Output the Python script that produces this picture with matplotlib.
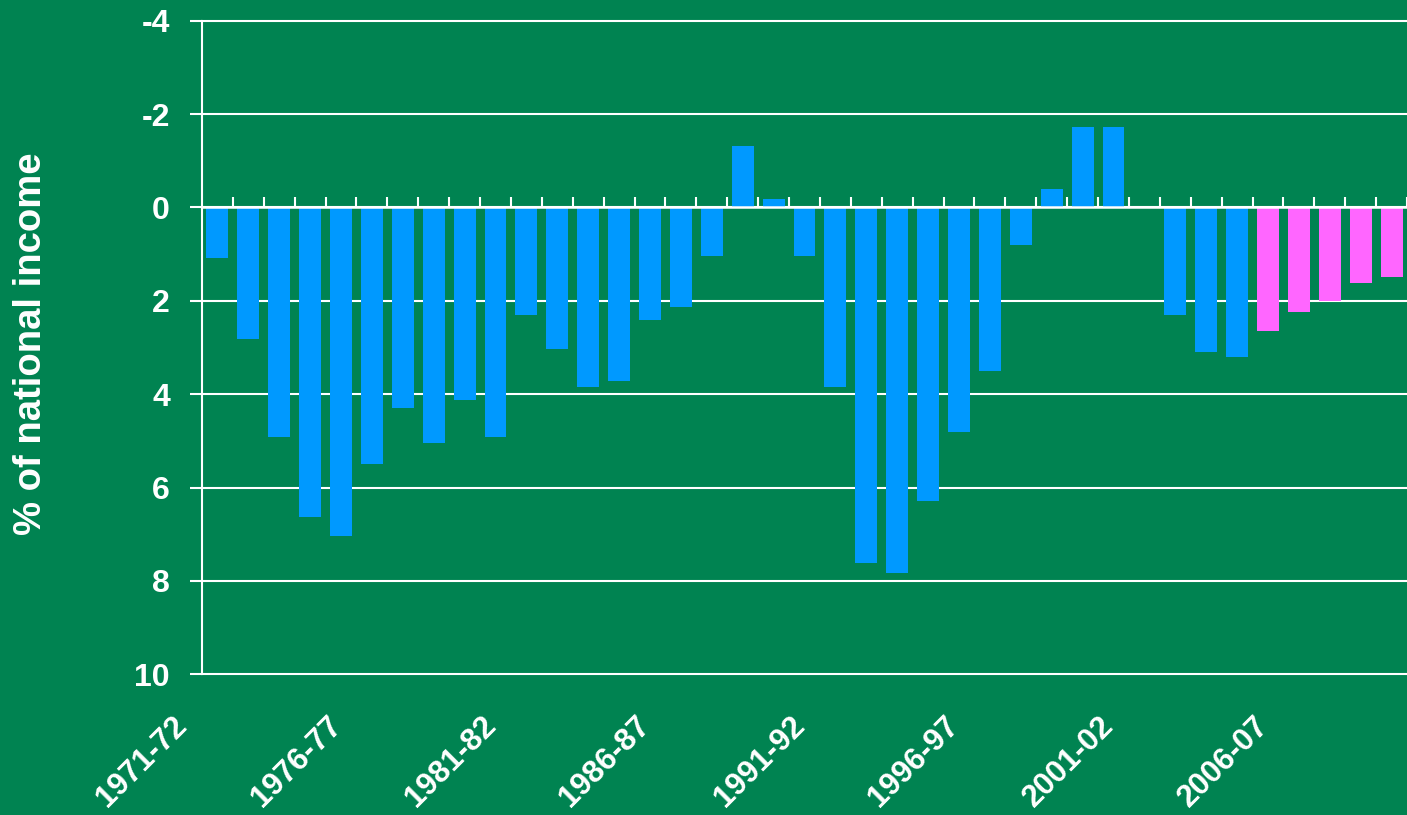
import matplotlib
matplotlib.use("Agg")
import matplotlib.pyplot as plt
import matplotlib.transforms as mtransforms
import numpy as np

# -----------------------------
# Datos
# -----------------------------
years = ['1971-72', '1972-73', '1973-74', '1974-75', '1975-76', '1976-77',
         '1977-78', '1978-79', '1979-80', '1980-81', '1981-82', '1982-83',
         '1983-84', '1984-85', '1985-86', '1986-87', '1987-88', '1988-89',
         '1989-90', '1990-91', '1991-92', '1992-93', '1993-94', '1994-95',
         '1995-96', '1996-97', '1997-98', '1998-99', '1999-00', '2000-01',
         '2001-02', '2002-03', '2003-04', '2004-05', '2005-06', '2006-07',
         '2007-08', '2008-09', '2009-10']
borrowing = [1.08, 2.82, 4.92, 6.64, 7.04, 5.50, 4.30, 5.05, 4.13, 4.92,
             2.31, 3.04, 3.85, 3.71, 2.41, 2.14, 1.04, -1.31, -0.18, 1.04,
             3.84, 7.61, 7.83, 6.29, 4.81, 3.50, 0.80, -0.39, -1.72, -1.72,
             0.0, 2.31, 3.09, 3.20, 2.64, 2.24, 2.00, 1.62, 1.49]
first_projection = '2005-06'
label_years = ['1971-72', '1976-77', '1981-82', '1986-87',
               '1991-92', '1996-97', '2001-02', '2006-07']
y_ticks = [-4, -2, 0, 2, 4, 6, 8, 10]

GREEN = '#008351'
BLUE = '#0099FF'
PINK = '#FF66FF'
W, H = 1407, 815

plt.rcParams['font.family'] = ['Liberation Sans', 'DejaVu Sans']
plt.rcParams['font.weight'] = 'bold'

fig = plt.figure(figsize=(W / 100, H / 100), dpi=100, facecolor=GREEN)
ax = fig.add_axes([202 / W, (H - 674.3) / H, (W - 202) / W, (674.3 - 20.7) / H])
ax.set_facecolor(GREEN)

x = np.arange(len(years))
split = years.index(first_projection)
colors = [BLUE if i < split else PINK for i in x]
ax.bar(x, borrowing, width=0.71, color=colors, zorder=1)

# ejes
ax.set_xlim(-0.5, (W - 202) / 31.1 - 0.5)
ax.set_ylim(10, -4)
ax.set_yticks(y_ticks, labels=[str(v) for v in y_ticks])
ax.set_xticks(np.arange(0.5, len(years), 1), labels=[])

ax.spines['top'].set_visible(False)
ax.spines['right'].set_visible(False)
ax.spines['left'].set_color('white')
ax.spines['left'].set_linewidth(1.5)
ax.spines['bottom'].set_position(('data', 0))
ax.spines['bottom'].set_color('white')
ax.spines['bottom'].set_linewidth(1.8)
ax.spines['bottom'].set_zorder(3)

ax.tick_params(axis='y', direction='out', length=8.5, width=1.5, colors='white',
               labelsize=23, pad=14.5)
ax.tick_params(axis='x', direction='in', length=7.5, width=1.5, colors='white')

ax.set_axisbelow(True)
ax.yaxis.grid(True, color='white', linewidth=1.5)
for gl in ax.get_ygridlines():
    gl.set_clip_on(False)

# etiquetas de categoría giradas
trans = mtransforms.blended_transform_factory(ax.transData, ax.transAxes)
for lbl in label_years:
    i = years.index(lbl)
    ax.text(i - 0.95, -0.080, lbl, transform=trans, rotation=45,
            rotation_mode='anchor', ha='right', va='baseline',
            fontsize=22.5, fontweight='bold', color='white')

fig.text(31 / W, 1 - 344 / H, '% of national income', rotation=90,
         ha='center', va='center', fontsize=27.5, fontweight='bold', color='white')

fig.savefig('out.png', dpi=100, facecolor=GREEN)
